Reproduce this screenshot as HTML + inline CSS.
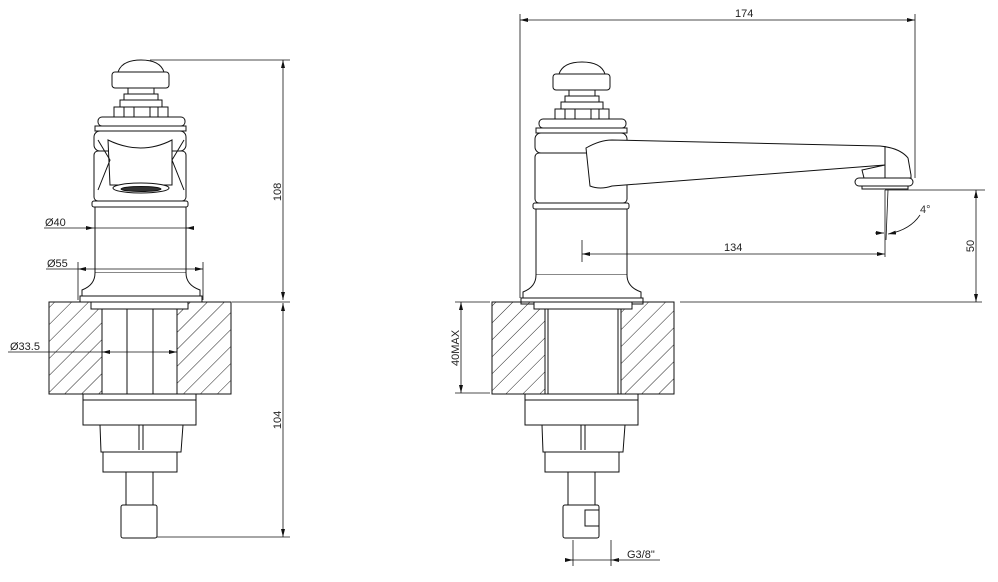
<!DOCTYPE html>
<html><head><meta charset="utf-8"><style>
html,body{margin:0;padding:0;background:#fff;width:998px;height:582px;overflow:hidden}
svg{display:block}
text{font-family:"Liberation Sans",sans-serif;font-size:11px;fill:#222}
</style></head><body>
<svg width="998" height="582" viewBox="0 0 998 582" xmlns="http://www.w3.org/2000/svg">
<defs>
<pattern id="h" patternUnits="userSpaceOnUse" width="12" height="12" patternTransform="rotate(45)">
<line x1="0" y1="0" x2="0" y2="12" stroke="#222" stroke-width="1"/></pattern>
<marker id="a" markerWidth="8" markerHeight="6" refX="8" refY="3" orient="auto-start-reverse" markerUnits="userSpaceOnUse"><path d="M0,1 L8,3 L0,5z" fill="#111"/></marker>
<g id="tap" fill="#fff" stroke="#111" stroke-width="1">
 <path d="M118,72 Q122,60 141,60 Q160,60 164,72 Z"/>
 <rect x="112" y="72" width="57" height="16" rx="3"/>
 <rect x="128" y="88" width="26" height="6"/>
 <rect x="124" y="94" width="34" height="6"/>
 <rect x="120" y="100" width="42" height="7"/>
 <rect x="114" y="107" width="54" height="10"/>
 <line x1="124" y1="107" x2="124" y2="117"/><line x1="134" y1="107" x2="134" y2="117"/><line x1="150" y1="107" x2="150" y2="117"/><line x1="158" y1="107" x2="158" y2="117"/>
 <rect x="98" y="117" width="87" height="9" rx="4"/>
 <rect x="95" y="126" width="91" height="5"/>
 <rect x="94" y="131" width="92" height="20" rx="6"/>
 <rect x="94" y="151" width="92" height="50" rx="4"/>
 <rect x="92" y="201" width="96" height="6" rx="2"/>
 <rect x="95" y="207" width="91" height="66"/>
 <path d="M95,273 Q95,285 82,290 L82,296 L200,296 L200,290 Q186,285 186,273"/>
 <rect x="80" y="296" width="122" height="6"/>
</g>
<g id="under" fill="#fff" stroke="#111" stroke-width="1">
 <rect x="83" y="394" width="113" height="6"/>
 <rect x="83" y="400" width="113" height="25"/>
 <path d="M100,425 L183,425 L181,452 L101,452 Z"/>
 <line x1="139" y1="425" x2="139" y2="450"/><line x1="143" y1="425" x2="143" y2="450"/>
 <rect x="103" y="452" width="74" height="20"/>
 <rect x="126" y="472" width="27" height="33"/>
 <rect x="121" y="505" width="36" height="33" rx="2"/>
</g>
</defs>

<use href="#tap"/>
<g fill="none" stroke="#111" stroke-width="1">
 <path d="M108,140 Q141,156 172,140 L172,185 L110,185 Z" fill="#fff"/>
 <ellipse cx="141" cy="188" rx="28" ry="5" fill="#fff"/>
 <ellipse cx="141" cy="189" rx="20" ry="2.5" fill="#333"/>
 <path d="M98,140 L110,160 L98,190 M184,140 L172,160 L184,190"/>
</g>
<rect x="49" y="302" width="182" height="92" fill="url(#h)" stroke="#111"/>
<rect x="102" y="302" width="75" height="92" fill="#fff" stroke="#111"/>
<rect x="91" y="302" width="97" height="7" fill="#fff" stroke="#111"/>
<line x1="127" y1="309" x2="127" y2="394" stroke="#111"/><line x1="153" y1="309" x2="153" y2="394" stroke="#111"/>
<use href="#under"/>

<g stroke="#111" stroke-width="0.8" fill="none">
 <line x1="150" y1="60" x2="290" y2="60"/>
 <line x1="232" y1="302" x2="290" y2="302"/>
 <line x1="157" y1="537" x2="290" y2="537"/>
 <line x1="283" y1="60" x2="283" y2="300" marker-start="url(#a)" marker-end="url(#a)"/>
 <line x1="283" y1="303" x2="283" y2="537" marker-start="url(#a)" marker-end="url(#a)"/>
 <line x1="44" y1="228" x2="94" y2="228" marker-end="url(#a)"/>
 <line x1="94" y1="228" x2="193" y2="228"/>
 <line x1="186" y1="228" x2="193" y2="228" marker-start="url(#a)"/>
 <line x1="78" y1="262" x2="78" y2="300"/><line x1="203" y1="262" x2="203" y2="300"/>
 <line x1="46" y1="269" x2="78" y2="269"/>
 <line x1="78" y1="269" x2="203" y2="269" marker-start="url(#a)" marker-end="url(#a)"/>
 <line x1="8" y1="352" x2="177" y2="352"/>
 <line x1="102" y1="352" x2="110" y2="352" marker-start="url(#a)"/>
 <line x1="169" y1="352" x2="177" y2="352" marker-end="url(#a)"/>
</g>
<text x="45" y="226">Ø40</text>
<text x="47" y="267">Ø55</text>
<text x="10" y="350">Ø33.5</text>
<text transform="translate(281,192) rotate(-90)" text-anchor="middle">108</text>
<text transform="translate(281,420) rotate(-90)" text-anchor="middle">104</text>

<g transform="translate(441,2)"><use href="#tap"/></g>
<path d="M586,148 Q600,140 612,140 L880,146 Q900,148 908,158 L911,175 L911,178 L864,178 L862,170 L885,165 L612,186 Q600,190 590,186 Z" fill="#fff" stroke="#111"/>
<line x1="885" y1="146" x2="885" y2="178" stroke="#111"/>
<rect x="855" y="178" width="58" height="8" rx="4" fill="#fff" stroke="#111"/>
<rect x="862" y="186" width="46" height="3" fill="#fff" stroke="#111"/>
<rect x="492" y="302" width="182" height="92" fill="url(#h)" stroke="#111"/>
<rect x="545" y="302" width="76" height="92" fill="#fff" stroke="#111"/>
<rect x="534" y="302" width="98" height="7" fill="#fff" stroke="#111"/>
<line x1="548" y1="309" x2="548" y2="394" stroke="#111"/><line x1="618" y1="309" x2="618" y2="394" stroke="#111"/>
<g transform="translate(442,0)"><use href="#under"/></g>
<rect x="585" y="510" width="14" height="16" fill="#fff" stroke="#111"/>

<g stroke="#111" stroke-width="0.8" fill="none">
 <line x1="520" y1="14" x2="520" y2="298"/>
 <line x1="915" y1="14" x2="915" y2="178"/>
 <line x1="520" y1="20" x2="915" y2="20" marker-start="url(#a)" marker-end="url(#a)"/>
 <line x1="582" y1="240" x2="582" y2="262"/>
 <line x1="582" y1="254" x2="885" y2="254" marker-start="url(#a)" marker-end="url(#a)"/>
 <line x1="885" y1="190" x2="885" y2="257"/>
 <line x1="888" y1="190" x2="886" y2="240"/>
 <line x1="875" y1="233" x2="884" y2="233" marker-end="url(#a)"/>
 <path d="M920,215 Q910,230 888,234" marker-end="url(#a)"/>
 <line x1="885" y1="190" x2="985" y2="190"/>
 <line x1="680" y1="302" x2="982" y2="302"/>
 <line x1="976" y1="190" x2="976" y2="302" marker-start="url(#a)" marker-end="url(#a)"/>
 <line x1="455" y1="302" x2="490" y2="302"/><line x1="455" y1="393" x2="490" y2="393"/>
 <line x1="461" y1="302" x2="461" y2="393" marker-start="url(#a)" marker-end="url(#a)"/>
 <line x1="573" y1="540" x2="573" y2="566"/><line x1="611" y1="540" x2="611" y2="566"/>
 <line x1="565" y1="560" x2="573" y2="560" marker-end="url(#a)"/>
 <line x1="573" y1="560" x2="611" y2="560"/>
 <line x1="611" y1="560" x2="660" y2="560" marker-start="url(#a)"/>
</g>
<text x="735" y="17">174</text>
<text x="724" y="251">134</text>
<text x="920" y="213" style="fill:#333">4°</text>
<text transform="translate(974,246) rotate(-90)" text-anchor="middle">50</text>
<text transform="translate(459,348) rotate(-90)" text-anchor="middle">40MAX</text>
<text x="627" y="558">G3/8"</text>
</svg>
</body></html>
